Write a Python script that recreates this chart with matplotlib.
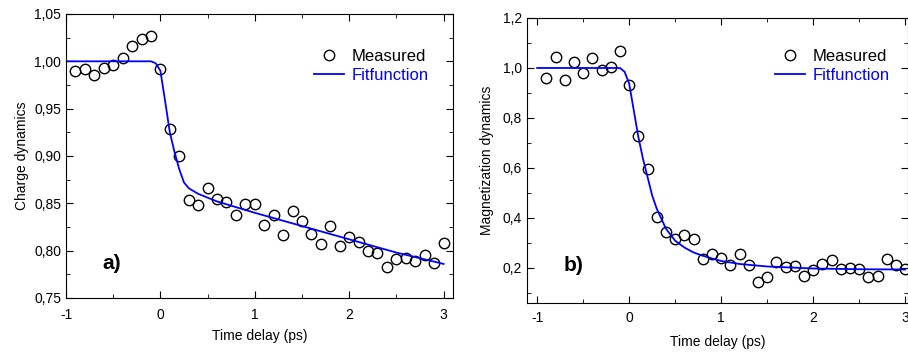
import matplotlib
matplotlib.use("Agg")
import matplotlib.pyplot as plt
from matplotlib.ticker import MultipleLocator, FuncFormatter

plt.rcParams['font.family'] = ['Liberation Sans', 'DejaVu Sans']
plt.rcParams['axes.unicode_minus'] = False

# time delay (ps) of the measured points, same for both panels
t = [-0.9, -0.8, -0.7, -0.6, -0.5, -0.4, -0.3, -0.2, -0.1, 0.0,
     0.1, 0.2, 0.3, 0.4, 0.5, 0.6, 0.7, 0.8, 0.9, 1.0,
     1.1, 1.2, 1.3, 1.4, 1.5, 1.6, 1.7, 1.8, 1.9, 2.0,
     2.1, 2.2, 2.3, 2.4, 2.5, 2.6, 2.7, 2.8, 2.9, 3.0]

# a) charge dynamics
charge = [0.990, 0.992, 0.986, 0.993, 0.996, 1.003, 1.016, 1.024, 1.027, 0.992,
          0.929, 0.900, 0.854, 0.848, 0.866, 0.855, 0.851, 0.838, 0.849, 0.849,
          0.827, 0.838, 0.817, 0.842, 0.831, 0.818, 0.807, 0.826, 0.805, 0.814,
          0.809, 0.800, 0.798, 0.783, 0.791, 0.792, 0.789, 0.795, 0.787, 0.808]
charge_fit_t = [-1.0, -0.1, -0.05, 0.0, 0.05, 0.1, 0.15, 0.2, 0.25, 0.3, 0.4, 0.5,
                0.6, 0.8, 1.0, 1.25, 1.5, 1.75, 2.0, 2.25, 2.5, 2.75, 3.0]
charge_fit = [1.000, 1.000, 0.998, 0.990, 0.958, 0.925, 0.904, 0.886, 0.872, 0.866, 0.860, 0.856,
              0.852, 0.846, 0.840, 0.833, 0.826, 0.819, 0.812, 0.805, 0.798, 0.792, 0.786]

# b) magnetization dynamics
magn = [0.959, 1.045, 0.953, 1.024, 0.981, 1.040, 0.993, 1.005, 1.068, 0.930,
        0.728, 0.596, 0.402, 0.344, 0.315, 0.332, 0.314, 0.235, 0.256, 0.240,
        0.211, 0.254, 0.211, 0.142, 0.163, 0.223, 0.203, 0.208, 0.169, 0.191,
        0.217, 0.233, 0.196, 0.199, 0.195, 0.164, 0.167, 0.235, 0.211, 0.196]
magn_fit_t = [-1.0, -0.1, -0.05, 0.0, 0.05, 0.1, 0.15, 0.2, 0.25, 0.3, 0.4, 0.5,
              0.6, 0.7, 0.8, 0.9, 1.0, 1.2, 1.5, 2.0, 2.5, 3.0]
magn_fit = [1.000, 1.000, 0.985, 0.938, 0.831, 0.724, 0.637, 0.564, 0.490, 0.437, 0.357, 0.309,
            0.282, 0.262, 0.249, 0.238, 0.228, 0.216, 0.206, 0.198, 0.195, 0.194]

blue = '#0000ff'
comma = lambda fmt: FuncFormatter(lambda v, p: (fmt % v).replace('.', ','))

fig = plt.figure(figsize=(9.08, 3.54), dpi=100)
ax1 = fig.add_axes([0.0727, 0.1582, 0.4262, 0.8023])
ax2 = fig.add_axes([0.5804, 0.1441, 0.4196, 0.8051])

panels = [
    (ax1, charge, charge_fit_t, charge_fit, 'Charge dynamics', 'a)',
     (-1, 3.1), (0.75, 1.05), 0.05, 0.025, '%.2f', (-0.52, 0.786),
     (0.976, 0.93), 7.0, 5.0),
    (ax2, magn, magn_fit_t, magn_fit, 'Magnetization dynamics', 'b)',
     (-1.11, 3.03), (0.06, 1.2), 0.2, 0.1, '%.1f', (-0.6, 0.21),
     (0.992, 0.945), 5.7, 7.6),
]

for ax, y, ft, fy, ylab, tag, xl, yl, ymaj, ymin, fmt, tagpos, legpos, xpad, xlpad in panels:
    ax.plot(t, y, 'o', mfc='none', mec='black', ms=7.5, mew=1.0, label='Measured')
    ax.plot(ft, fy, '-', color=blue, lw=1.3, label='Fitfunction')
    ax.set_xlim(*xl)
    ax.set_ylim(*yl)
    ax.xaxis.set_major_locator(MultipleLocator(1))
    ax.xaxis.set_minor_locator(MultipleLocator(0.5))
    ax.yaxis.set_major_locator(MultipleLocator(ymaj))
    ax.yaxis.set_minor_locator(MultipleLocator(ymin))
    ax.yaxis.set_major_formatter(comma(fmt))
    ax.tick_params(which='both', direction='in', top=True, right=True, labelsize=10)
    ax.tick_params(which='major', length=5)
    ax.tick_params(which='minor', length=3)
    ax.tick_params(axis='x', which='major', pad=xpad)
    ax.set_xlabel('Time delay (ps)', fontsize=10, labelpad=xlpad)
    ax.set_ylabel(ylab, fontsize=10)
    ax.text(tagpos[0], tagpos[1], tag, fontsize=15, fontweight='bold', ha='center', va='center')
    leg = ax.legend(loc='upper right', bbox_to_anchor=legpos, frameon=False,
                    fontsize=12, handlelength=1.8, handletextpad=0.48, labelspacing=0.25)
    leg.get_texts()[1].set_color(blue)

ax1.yaxis.labelpad = 4
ax2.yaxis.labelpad = 6

fig.savefig('out.png', dpi=100)
